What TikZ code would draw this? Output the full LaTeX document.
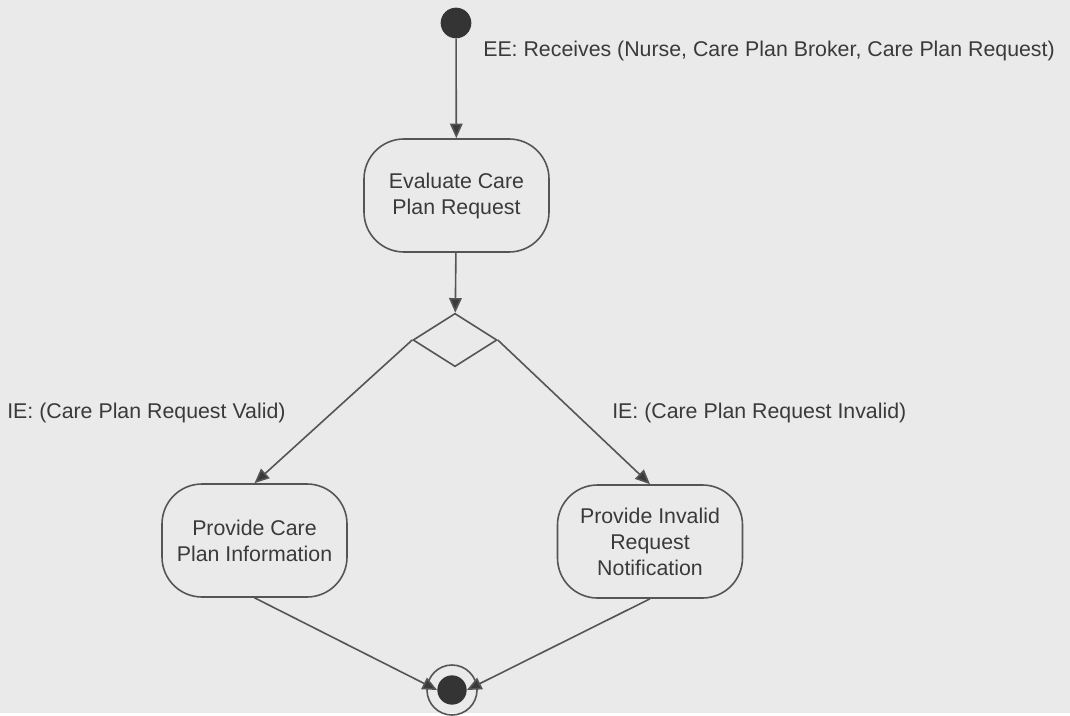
\documentclass[tikz,border=0pt]{standalone}
\usepackage{fontspec}
\setmainfont{Liberation Sans}
\usetikzlibrary{shapes.geometric,arrows.meta}
\definecolor{paper}{HTML}{EAEAEA}
\definecolor{ink}{HTML}{3A3A3A}
\definecolor{wire}{HTML}{555555}
\tikzset{
  nodeState/.style={draw=wire, line width=1.2pt, rounded corners=30pt, align=center,
    text=ink, minimum width=138.75pt, minimum height=84.75pt, font=\fontsize{16}{19.5}\selectfont},
  nodeDot/.style={circle, fill=ink!90!black, inner sep=0pt},
  nodeLabel/.style={anchor=west, text=ink, inner sep=0pt, font=\fontsize{16}{19}\selectfont},
  flow/.style={draw=wire, line width=1.2pt, -{Triangle[length=11pt,width=9.5pt,fill=ink]}}
}

\begin{document}
\begin{tikzpicture}[x=0.75pt, y=-0.75pt]
  \fill[paper] (0,0) rectangle (1070,713);

  \node[nodeDot, minimum size=23pt] (start) at (456,23) {};
  \node[nodeState] (evaluate) at (456.5,195.5) {Evaluate Care\\Plan Request};
  \node[draw=wire, line width=1.2pt, diamond, aspect=1.58, inner sep=0pt,
        minimum width=63pt, minimum height=40pt] (decision) at (455,340) {};
  \node[nodeState] (provideInfo) at (254.5,540.5) {Provide Care\\Plan Information};
  \node[nodeState] (provideInvalid) at (650,541.5) {Provide Invalid\\Request\\Notification};
  \node[circle, draw=wire, line width=1.2pt, minimum size=37.5pt, inner sep=0pt] (finish) at (452,690) {};
  \node[nodeDot, minimum size=22pt] (finishDot) at (452,690) {};

  \node[nodeLabel] (eeLabel) at (483,51) {EE: Receives (Nurse, Care Plan Broker, Care Plan Request)};
  \node[nodeLabel] (validLabel) at (7,413) {IE: (Care Plan Request Valid)};
  \node[nodeLabel] (invalidLabel) at (612,413) {IE: (Care Plan Request Invalid)};

  \draw[flow] (start) -- (evaluate);
  \draw[flow] (evaluate) -- (decision);
  \draw[flow] (decision.west) -- (provideInfo.north);
  \draw[flow] (decision.east) -- (provideInvalid.north);
  \draw[flow] (provideInfo.south) -- (finishDot.west);
  \draw[flow] (provideInvalid.south) -- (finishDot.east);
\end{tikzpicture}
\end{document}
